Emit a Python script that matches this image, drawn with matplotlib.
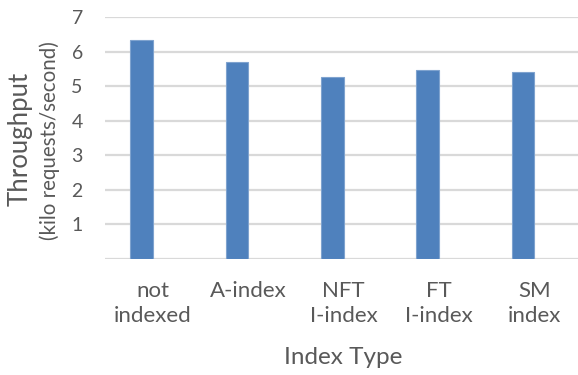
import matplotlib
matplotlib.use("Agg")
import matplotlib.pyplot as plt

categories = ["not\nindexed", "A-index", "NFT\nI-index", "FT\nI-index", "SM\nindex"]
throughput = [6.34, 5.71, 5.28, 5.47, 5.41]
yticks = [1, 2, 3, 4, 5, 6, 7]

plt.rcParams['font.family'] = ['Lato', 'DejaVu Sans']
TXT = '#595959'
W, H = 578, 375
fig = plt.figure(figsize=(W / 100, H / 100), dpi=100)
ax = fig.add_axes([105 / W, (H - 259) / H, 1 - 105 / W, (259 - 17.3) / H])

x = list(range(len(categories)))
bw = 0.236
# bars sit to the left of each category centre (clustered layout, second slot empty)
ax.bar([i - bw / 2 for i in x], throughput, width=bw, color='#4F81BD',
       edgecolor='#7FA3CF', linewidth=0.8, zorder=3)
ax.set_xlim(-0.5, 4.5 - 4 / 95.4)
ax.set_ylim(0, 7)
ax.set_yticks(yticks)
ax.set_yticklabels([str(v) for v in yticks])
ax.set_xticks(x)
ax.set_xticklabels(categories, linespacing=1.27, fontsize=16)
for y in [0] + yticks:
    ax.axhline(y, color='#D9D9D9', linewidth=1.6, zorder=1)
for s in ax.spines.values():
    s.set_visible(False)
ax.tick_params(axis='both', length=0, colors=TXT)
ax.tick_params(axis='y', pad=16, labelsize=14)
ax.tick_params(axis='x', pad=16)

fig.text(20 / W, 1 - 139 / H, "Throughput", rotation=90, ha='center', va='center', fontsize=18.5, color=TXT)
fig.text(50 / W, 1 - 141 / H, "(kilo requests/second)", rotation=90, ha='center', va='center', fontsize=14.8, color=TXT)
fig.text(343 / W, 1 - 358 / H, "Index Type", ha='center', va='center', fontsize=17.5, color=TXT)

fig.savefig("out.png", dpi=100)
